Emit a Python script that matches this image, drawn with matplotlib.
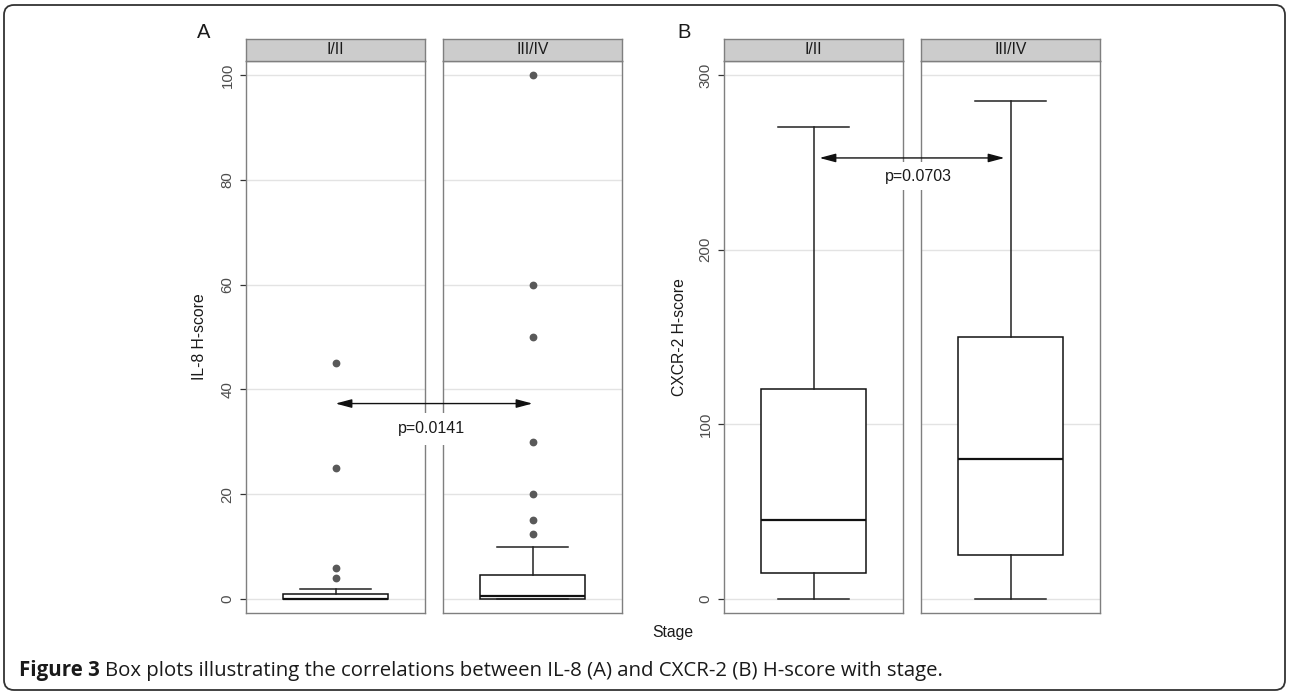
import matplotlib.pyplot as plt
from matplotlib.patches import ConnectionPatch, FancyBboxPatch

W, H = 1290, 691

stages = ["I/II", "III/IV"]

# IL-8 H-score, box summaries per stage
il8_low = [0, 0]
il8_q1 = [0, 0]
il8_med = [0, 0.6]
il8_q3 = [1, 4.5]
il8_high = [2, 10]
il8_out = [[4, 6, 25, 45], [12.5, 15, 20, 30, 50, 60, 100]]

# CXCR-2 H-score, box summaries per stage
cx_low = [0, 0]
cx_q1 = [15, 25]
cx_med = [45, 80]
cx_q3 = [120, 150]
cx_high = [270, 285]
cx_out = [[], []]

il8_ticks = [0, 20, 40, 60, 80, 100]
cx_ticks = [0, 100, 200, 300]
p_values = ["p=0.0141", "p=0.0703"]
arrow_y = [37.3, 252.5]

FONT = ["Liberation Sans", "DejaVu Sans"]
BORDER = "#7f7f7f"
GRID = "#e3e3e3"
plt.rcParams["font.family"] = FONT


def fig_rect(x0, y0, x1, y1):
    # pixel box (top-left origin) -> figure fraction rect
    return [x0 / W, 1 - y1 / H, (x1 - x0) / W, (y1 - y0) / H]


def stats_for(i, low, q1, med, q3, high, out):
    return [{"whislo": low[i], "q1": q1[i], "med": med[i], "q3": q3[i],
             "whishi": high[i], "fliers": out[i]}]


def draw_panel(fig, xspans, ylim, yticks, series):
    axes = []
    for i, (x0, x1) in enumerate(xspans):
        ax = fig.add_axes(fig_rect(x0, 61, x1, 613))
        ax.set_xlim(0.4, 1.6)
        ax.set_ylim(*ylim)
        ax.set_xticks([])
        ax.yaxis.grid(True, color=GRID, linewidth=1.0)
        ax.set_axisbelow(True)
        for s in ax.spines.values():
            s.set_color(BORDER)
            s.set_linewidth(1.0)
        ax.bxp(stats_for(i, *series), positions=[1], widths=0.71, capwidths=[0.47],
               patch_artist=True, manage_ticks=False,
               boxprops=dict(facecolor="white", edgecolor="#111111", linewidth=1.1),
               medianprops=dict(color="#111111", linewidth=1.6),
               whiskerprops=dict(color="#222222", linewidth=1.1),
               capprops=dict(color="#222222", linewidth=1.1),
               flierprops=dict(marker="o", markerfacecolor="#595959",
                               markeredgecolor="#595959", markersize=4.6))
        if i == 0:
            ax.set_yticks(yticks, [str(t) for t in yticks], rotation=90, va="center",
                          fontsize=10.8, color="#4d4d4d", family=FONT)
            ax.tick_params(axis="y", length=4.3, width=0.9, color="#333333", pad=4)
        else:
            ax.set_yticks(yticks)
            ax.tick_params(axis="y", length=0, labelleft=False)

        strip = fig.add_axes(fig_rect(x0, 39, x1, 61))
        strip.set_facecolor("#cccccc")
        strip.set_xticks([])
        strip.set_yticks([])
        for s in strip.spines.values():
            s.set_color(BORDER)
            s.set_linewidth(1.0)
        strip.text(0.5, 0.5, stages[i], ha="center", va="center",
                   fontsize=11.3, color="#1a1a1a", transform=strip.transAxes)
        axes.append(ax)
    return axes


fig = plt.figure(figsize=(W / 100, H / 100), dpi=100, facecolor="white")

axA = draw_panel(fig, [(246, 425), (443, 622)], (-2.67, 102.67), il8_ticks,
                 (il8_low, il8_q1, il8_med, il8_q3, il8_high, il8_out))
axB = draw_panel(fig, [(724, 903), (921, 1100)], (-8.0, 308.0), cx_ticks,
                 (cx_low, cx_q1, cx_med, cx_q3, cx_high, cx_out))

# comparison arrows between stages
for (a1, a2), y, dx in zip([axA, axB], arrow_y, [0.0, 0.04]):
    con = ConnectionPatch(xyA=(1 + dx, y), coordsA=a1.transData,
                          xyB=(1 - dx, y), coordsB=a2.transData,
                          arrowstyle="<|-|>,head_length=0.75,head_width=0.2",
                          mutation_scale=13, color="#111111", linewidth=1.0)
    fig.add_artist(con)

fig.text(431 / W, 1 - 429 / H, p_values[0], ha="center", va="center", fontsize=11.5,
         color="#1a1a1a", bbox=dict(boxstyle="square,pad=0.55", fc="white", ec="none"))
fig.text(918 / W, 1 - 176 / H, p_values[1], ha="center", va="center", fontsize=11.5,
         color="#1a1a1a", bbox=dict(boxstyle="square,pad=0.4", fc="white", ec="none"))

# panel letters and axis titles
fig.text(197 / W, 1 - 38 / H, "A", ha="left", va="baseline", fontsize=14.5, color="#1a1a1a")
fig.text(677 / W, 1 - 38 / H, "B", ha="left", va="baseline", fontsize=14.5, color="#1a1a1a")
fig.text(199 / W, 1 - 337 / H, "IL-8 H-score", rotation=90, ha="center", va="center",
         fontsize=11.3, color="#1a1a1a")
fig.text(679 / W, 1 - 337 / H, "CXCR-2 H-score", rotation=90, ha="center", va="center",
         fontsize=11.3, color="#1a1a1a")
fig.text(673 / W, 1 - 632 / H, "Stage", ha="center", va="center", fontsize=11.3, color="#1a1a1a")

# caption
cap_font = ["Open Sans", "DejaVu Sans"]
t1 = fig.text(19 / W, 1 - 676 / H, "Figure 3", ha="left", va="baseline", fontsize=14.8,
              fontweight="bold", family=cap_font, color="#1a1a1a")
bg = fig.add_axes([0, 0, 1, 1], zorder=-5)
bg.axis("off")
bg.annotate("Box plots illustrating the correlations between IL-8 (A) and CXCR-2 (B) "
            "H-score with stage.", xy=(1, 0), xycoords=t1, xytext=(4, 0),
            textcoords="offset points", ha="left", va="bottom", fontsize=14.7,
            family=cap_font, color="#1a1a1a")

# rounded outer frame
frame = FancyBboxPatch((4 / 100, 1 / 100), 12.81, 6.85,
                       boxstyle="round,pad=0,rounding_size=0.1",
                       transform=fig.dpi_scale_trans, fill=False,
                       edgecolor="#333333", linewidth=1.3)
fig.add_artist(frame)

fig.savefig("out.png", dpi=100)
